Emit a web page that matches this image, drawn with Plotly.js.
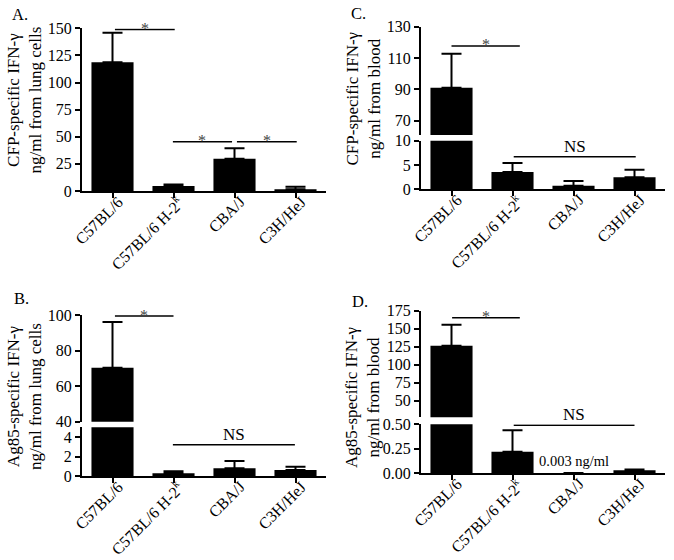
<!DOCTYPE html>
<html><head><meta charset="utf-8">
<script src="https://cdn.plot.ly/plotly-3.0.1.min.js"></script>
<style>html,body{margin:0;padding:0;background:#fff}#chart{width:674px;height:560px}</style>
</head><body><div id="chart"></div>
<script>
// ---------- data ----------
const strains = ['C57BL/6', 'C57BL/6 H-2<sup>k</sup>', 'CBA/J', 'C3H/HeJ'];

const cfpLungMean  = [118.6, 4.6, 29.8, 1.5];
const cfpLungSem   = [27.3, 1.4, 9.5, 2.5];
const cfpBloodMean = [91, 3.56, 0.74, 2.5];
const cfpBloodSem  = [21.8, 1.85, 0.96, 1.5];
const ag85LungMean = [70.4, 0.28, 0.8, 0.62];
const ag85LungSem  = [25.6, 0.22, 0.75, 0.34];
const ag85BloodMean = [126.4, 0.22, 0.003, 0.03];
const ag85BloodSem  = [29.2, 0.22, 0, 0.01];

const ticksA = [0, 25, 50, 75, 100, 125, 150];
const ticksCLow = [0, 5, 10];
const ticksCHigh = [70, 90, 110, 130];
const ticksBLow = [0, 2, 4];
const ticksBHigh = [40, 60, 80, 100];
const ticksDLow = [0, 0.25, 0.5];
const ticksDHigh = [50, 75, 100, 125, 150, 175];

// comparisons: [from category, to category, label]
const sigA = [[0, 1, '*'], [1, 2, '*'], [2, 3, '*']];
const sigB = [[0, 1, '*'], [1, 3, 'NS']];
const sigC = [[0, 1, '*'], [1, 3, 'NS']];
const sigD = [[0, 1, '*'], [1, 3, 'NS']];

const titleA = 'CFP-specific IFN-γ<br>ng/ml from lung cells';
const titleB = 'Ag85-specific IFN-γ<br>ng/ml from lung cells';
const titleC = 'CFP-specific IFN-γ<br>ng/ml from blood';
const titleD = 'Ag85-specific IFN-γ<br>ng/ml from blood';

// ---------- helpers ----------
const W = 674, H = 560;
const FONT = '"Liberation Serif", "Times New Roman", serif';
const px = v => v / W;
const py = v => 1 - v / H;
const idx = strains.map((_, i) => i);

function barTrace(mean, sem, xa, ya) {
  return {
    type: 'bar', x: idx, y: mean, xaxis: xa, yaxis: ya,
    width: 0.69,
    marker: { color: '#000', line: { width: 0 } },
    error_y: { type: 'data', symmetric: false, array: sem, arrayminus: sem.map(() => 0),
               color: '#000', thickness: 2, width: 10 },
    hoverinfo: 'skip', showlegend: false
  };
}

function xAxis(x0, x1, anchor) {
  return {
    domain: [px(x0), px(x1)], anchor: anchor, range: [-0.5, 3.5],
    tickmode: 'array', tickvals: idx, ticktext: strains, showticklabels: false,
    ticks: 'outside', ticklen: 5, tickwidth: 2, tickcolor: '#000',
    showline: true, linewidth: 2, linecolor: '#000',
    showgrid: false, zeroline: false, fixedrange: true, automargin: false
  };
}

function yAxis(top, bottom, anchor, range, tickvals, fmt) {
  const a = {
    domain: [py(bottom), py(top)], anchor: anchor, range: range,
    tickmode: 'array', tickvals: tickvals,
    ticks: 'outside', ticklen: 5, tickwidth: 2, tickcolor: '#000',
    showline: true, linewidth: 2, linecolor: '#000',
    showgrid: false, zeroline: false, fixedrange: true, automargin: false,
    tickfont: { family: FONT, size: 16, color: '#000' }
  };
  if (fmt) a.tickformat = fmt;
  return a;
}

const shapes = [];
const annotations = [];

function addSig(list, xref, yrefs, levels, ext) {
  list.forEach((c, i) => {
    const x0 = c[0] + ext[i][0], x1 = c[1] + ext[i][1];
    shapes.push({ type: 'line', xref: xref, yref: yrefs[i], x0: x0, x1: x1,
                  y0: levels[i], y1: levels[i], line: { color: '#000', width: 1.5 } });
    const star = c[2] === '*';
    annotations.push({ xref: xref, yref: yrefs[i], x: (x0 + x1) / 2, y: levels[i],
      text: c[2], showarrow: false, yanchor: star ? 'middle' : 'bottom', yshift: star ? 1 : -1,
      font: { family: FONT, size: star ? 16 : 17, color: star ? '#444' : '#000' } });
  });
}

// rotated category labels under each x axis
function addCatLabels(xref, axisPx) {
  strains.forEach((s, i) => {
    annotations.push({ xref: xref, yref: 'paper', x: i, y: py(axisPx + 0.5),
      text: s, showarrow: false, textangle: -45, xanchor: 'right', yanchor: 'top',
      borderpad: 0, xshift: 15, font: { family: FONT, size: 16, color: '#000' } });
  });
}

// ---------- traces ----------
const data = [
  barTrace(cfpLungMean, cfpLungSem, 'x', 'y'),
  barTrace(cfpBloodMean, cfpBloodSem, 'x2', 'y2'),
  barTrace(cfpBloodMean, cfpBloodSem, 'x2', 'y3'),
  barTrace(ag85LungMean, ag85LungSem, 'x3', 'y4'),
  barTrace(ag85LungMean, ag85LungSem, 'x3', 'y5'),
  barTrace(ag85BloodMean, ag85BloodSem, 'x4', 'y6'),
  barTrace(ag85BloodMean, ag85BloodSem, 'x4', 'y7')
];

// ---------- significance ----------
addSig(sigA, 'x', ['y', 'y', 'y'], [149, 45.4, 45.4], [[0.04, 0.02], [-0.01, -0.04], [0.04, 0.02]]);
addSig(sigC, 'x2', ['y3', 'y2'], [117.7, 6.7], [[0, 0.12], [0.02, 0.02]]);
addSig(sigB, 'x3', ['y5', 'y4'], [99.4, 3.2], [[0.04, 0], [-0.01, -0.01]]);
addSig(sigD, 'x4', ['y7', 'y6'], [165.3, 0.49], [[0.01, 0.12], [0.02, 0]]);

addCatLabels('x', 191);
addCatLabels('x2', 189.3);
addCatLabels('x3', 476);
addCatLabels('x4', 473.3);

// value note for CBA/J in panel D
annotations.push({ xref: 'x4', yref: 'y6', x: 2, y: ag85BloodMean[2],
  text: ag85BloodMean[2] + ' ng/ml', showarrow: false, yanchor: 'bottom', yshift: 2,
  font: { family: FONT, size: 14.5, color: '#000' } });

// panel letters
[['A.', 10, 14], ['C.', 349, 13], ['B.', 12, 298], ['D.', 350, 301]].forEach(p => {
  annotations.push({ xref: 'paper', yref: 'paper', x: px(p[1]), y: py(p[2]), text: p[0],
    showarrow: false, xanchor: 'left', yanchor: 'middle',
    font: { family: FONT, size: 16.5, color: '#000' } });
});

// y titles
[[titleA, 23.5, 100], [titleC, 362.5, 98], [titleB, 24, 397], [titleD, 362, 397]].forEach(t => {
  annotations.push({ xref: 'paper', yref: 'paper', x: px(t[1]), y: py(t[2]), text: t[0],
    showarrow: false, textangle: -90, xanchor: 'center', yanchor: 'middle',
    font: { family: FONT, size: 17, color: '#000' } });
});

// ---------- layout ----------
const layout = {
  width: W, height: H, margin: { l: 0, r: 0, t: 0, b: 0 },
  paper_bgcolor: '#fff', plot_bgcolor: 'rgba(0,0,0,0)',
  font: { family: FONT, size: 16, color: '#000' },
  showlegend: false,
  xaxis:  xAxis(82, 326, 'y'),
  yaxis:  yAxis(28.3, 191, 'x', [0, 150], ticksA),
  xaxis2: xAxis(421, 665, 'y2'),
  yaxis2: yAxis(140.7, 189.3, 'x2', [0, 10], ticksCLow),
  yaxis3: yAxis(26.7, 135, 'x2', [60.9, 130], ticksCHigh),
  xaxis3: xAxis(82, 326, 'y4'),
  yaxis4: yAxis(427.3, 476, 'x3', [0, 5], ticksBLow),
  yaxis5: yAxis(315, 421.7, 'x3', [40, 100], ticksBHigh),
  xaxis4: xAxis(421, 665, 'y6'),
  yaxis6: yAxis(424.3, 473.3, 'x4', [0, 0.5], ticksDLow, '.2f'),
  yaxis7: yAxis(310.7, 417.3, 'x4', [27, 175], ticksDHigh),
  shapes: shapes,
  annotations: annotations
};

Plotly.newPlot('chart', data, layout, { staticPlot: true, displayModeBar: false });
</script>
</body></html>
